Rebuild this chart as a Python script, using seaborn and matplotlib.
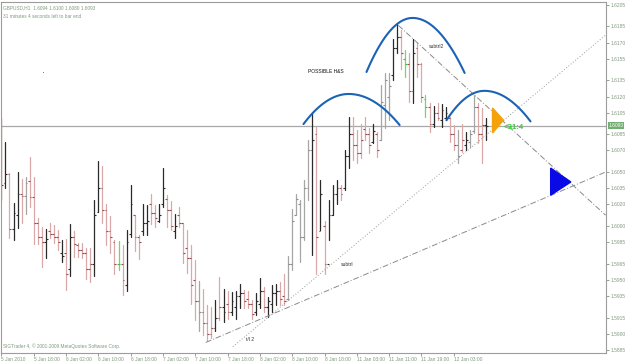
import numpy as np
import pandas as pd
import matplotlib
matplotlib.use("Agg")
import matplotlib.pyplot as plt
import seaborn as sns
from matplotlib.patches import Polygon
from matplotlib.transforms import blended_transform_factory

# ---------------- data (GBPUSD H1 bars) ----------------
high = [1.6100, 1.6078, 1.6049, 1.6021, 1.6050, 1.6044, 1.6045, 1.6064, 1.6045, 1.6007,
        1.5999, 1.5997, 1.6003, 1.6001, 1.5996, 1.5987, 1.5988, 1.6002, 1.5995, 1.5984,
        1.5984, 1.5980, 1.5980, 1.6024, 1.6060, 1.6056, 1.6020, 1.6009, 1.5987, 1.5986,
        1.5982, 1.5996, 1.6038, 1.6010, 1.5992, 1.6020, 1.6019, 1.6030, 1.6019, 1.6020,
        1.6054, 1.6029, 1.6023, 1.6011, 1.6018, 1.6003, 1.5996, 1.5982, 1.5968, 1.5949,
        1.5942, 1.5927, 1.5925, 1.5931, 1.5953, 1.5942, 1.5940, 1.5939, 1.5940, 1.5946,
        1.5941, 1.5940, 1.5931, 1.5938, 1.5952, 1.5943, 1.5934, 1.5945, 1.5946, 1.5948,
        1.5955, 1.5972, 1.6016, 1.6030, 1.6024, 1.6043, 1.6080, 1.6105, 1.6092, 1.6043,
        1.6005, 1.6024, 1.6038, 1.6043, 1.6038, 1.6070, 1.6101, 1.6101, 1.6089, 1.6095,
        1.6101, 1.6091, 1.6095, 1.6087, 1.6131, 1.6142, 1.6142, 1.6173, 1.6187, 1.6182,
        1.6163, 1.6160, 1.6173, 1.6170, 1.6151, 1.6121, 1.6114, 1.6111, 1.6114, 1.6113,
        1.6110, 1.6101, 1.6094, 1.6089, 1.6095, 1.6087, 1.6089, 1.6121, 1.6114, 1.6109,
        1.6100]
low = [1.6024, 1.6035, 1.5989, 1.5987, 1.5998, 1.6003, 1.6011, 1.6018, 1.5983, 1.5983,
       1.5962, 1.5970, 1.5989, 1.5984, 1.5978, 1.5967, 1.5941, 1.5954, 1.5971, 1.5971,
       1.5970, 1.5951, 1.5948, 1.5954, 1.6013, 1.6003, 1.5982, 1.5975, 1.5955, 1.5959,
       1.5936, 1.5940, 1.5990, 1.5977, 1.5969, 1.5992, 1.5992, 1.6002, 1.5999, 1.6004,
       1.6018, 1.5999, 1.5996, 1.5989, 1.5999, 1.5966, 1.5956, 1.5928, 1.5913, 1.5903,
       1.5899, 1.5893, 1.5896, 1.5903, 1.5913, 1.5911, 1.5914, 1.5917, 1.5914, 1.5924,
       1.5924, 1.5924, 1.5914, 1.5917, 1.5924, 1.5920, 1.5916, 1.5920, 1.5927, 1.5927,
       1.5927, 1.5931, 1.5959, 1.6010, 1.5967, 1.5987, 1.6024, 1.5973, 1.5955, 1.5996,
       1.5955, 1.5987, 1.6010, 1.6020, 1.6024, 1.6033, 1.6054, 1.6061, 1.6058, 1.6063,
       1.6080, 1.6068, 1.6077, 1.6064, 1.6080, 1.6091, 1.6098, 1.6135, 1.6160, 1.6146,
       1.6138, 1.6115, 1.6114, 1.6138, 1.6115, 1.6101, 1.6087, 1.6092, 1.6098, 1.6092,
       1.6098, 1.6078, 1.6070, 1.6058, 1.6069, 1.6070, 1.6073, 1.6086, 1.6077, 1.6058,
       1.6080]
open_ = [1.6090, 1.6040, 1.6048, 1.5997, 1.6010, 1.6030, 1.6028, 1.6042, 1.6027, 1.6003,
         1.5990, 1.5985, 1.5995, 1.5993, 1.5990, 1.5975, 1.5975, 1.5960, 1.5990, 1.5982,
         1.5978, 1.5975, 1.5960, 1.5965, 1.6013, 1.6035, 1.6015, 1.5995, 1.5985, 1.5965,
         1.5965, 1.5945, 1.5993, 1.6010, 1.5990, 1.5995, 1.6003, 1.6020, 1.6012, 1.6005,
         1.6020, 1.6025, 1.6015, 1.5995, 1.6010, 1.6003, 1.5980, 1.5970, 1.5950, 1.5930,
         1.5920, 1.5910, 1.5900, 1.5905, 1.5915, 1.5925, 1.5928, 1.5920, 1.5925, 1.5935,
         1.5938, 1.5932, 1.5928, 1.5920, 1.5928, 1.5940, 1.5925, 1.5928, 1.5938, 1.5940,
         1.5935, 1.5932, 1.5965, 1.6010, 1.6020, 1.5990, 1.6035, 1.6070, 1.6085, 1.5995,
         1.6000, 1.5965, 1.6010, 1.6030, 1.6035, 1.6035, 1.6065, 1.6085, 1.6075, 1.6068,
         1.6090, 1.6085, 1.6078, 1.6085, 1.6080, 1.6112, 1.6120, 1.6140, 1.6165, 1.6175,
         1.6155, 1.6150, 1.6125, 1.6165, 1.6150, 1.6118, 1.6110, 1.6095, 1.6105, 1.6098,
         1.6100, 1.6100, 1.6085, 1.6075, 1.6070, 1.6075, 1.6078, 1.6088, 1.6110, 1.6085,
         1.6094]
close = [1.6038, 1.6048, 1.5997, 1.6012, 1.6030, 1.6028, 1.6040, 1.6027, 1.6003, 1.5990,
         1.5985, 1.5988, 1.5993, 1.5990, 1.5985, 1.5972, 1.5955, 1.5990, 1.5983, 1.5978,
         1.5975, 1.5960, 1.5965, 1.6010, 1.6035, 1.6015, 1.5995, 1.5990, 1.5965, 1.5965,
         1.5950, 1.5985, 1.6020, 1.5990, 1.5985, 1.6003, 1.6005, 1.6012, 1.6007, 1.6010,
         1.6035, 1.6015, 1.6000, 1.6000, 1.6003, 1.5975, 1.5970, 1.5945, 1.5930, 1.5920,
         1.5910, 1.5900, 1.5905, 1.5915, 1.5925, 1.5920, 1.5920, 1.5930, 1.5935, 1.5938,
         1.5930, 1.5928, 1.5918, 1.5930, 1.5940, 1.5925, 1.5930, 1.5938, 1.5940, 1.5932,
         1.5930, 1.5965, 1.6005, 1.6025, 1.5990, 1.6035, 1.6070, 1.6080, 1.5990, 1.6030,
         1.5965, 1.6010, 1.6030, 1.6035, 1.6030, 1.6065, 1.6085, 1.6075, 1.6068, 1.6080,
         1.6085, 1.6075, 1.6088, 1.6070, 1.6115, 1.6135, 1.6130, 1.6165, 1.6175, 1.6160,
         1.6150, 1.6125, 1.6160, 1.6150, 1.6120, 1.6110, 1.6095, 1.6105, 1.6100, 1.6108,
         1.6105, 1.6085, 1.6075, 1.6065, 1.6080, 1.6080, 1.6085, 1.6110, 1.6085, 1.6094,
         1.6093]
kind = (["brown", "black", "pink", "black", "black", "pink", "gray", "pink", "pink", "pink",
         "pink", "black", "pink", "pink", "pink", "black", "pink", "black", "pink", "pink",
         "pink", "pink", "pink", "black", "black", "pink", "pink", "pink", "pink", "green",
         "pink", "black", "black", "pink", "pink", "black", "black", "pink", "pink", "black",
         "black", "pink", "pink", "black", "pink", "pink", "pink", "pink", "pink", "gray",
         "pink", "pink", "pink", "black", "pink", "black", "pink", "black", "black", "black",
         "pink", "pink", "pink", "black", "black", "pink", "black", "black", "black", "pink",
         "pink", "gray", "gray", "gray", "gray", "gray", "gray", "black", "pink", "black",
         "pink", "black", "black", "black", "pink", "black", "black", "pink", "pink", "pink",
         "pink", "pink", "black", "pink", "gray", "gray", "gray", "black", "black", "pink",
         "green", "pink", "black", "pink", "pink", "green", "pink", "black", "pink", "black",
         "black", "pink", "pink", "gray", "pink", "black", "gray", "gray", "pink", "pink",
         "black"])

x_tick_pos = [0, 8, 16, 24, 32, 40, 48, 56, 64, 72, 80, 88, 96, 104, 112]
x_tick_labels = ["5 Jan 2010", "5 Jan 18:00", "6 Jan 02:00", "6 Jan 10:00", "6 Jan 18:00",
                 "7 Jan 02:00", "7 Jan 10:00", "7 Jan 18:00", "8 Jan 02:00", "8 Jan 10:00",
                 "8 Jan 18:00", "11 Jan 03:00", "11 Jan 11:00", "11 Jan 19:00", "12 Jan 03:00"]
y_ticks = [1.6205, 1.6185, 1.6170, 1.6155, 1.6135, 1.6120, 1.6105, 1.6085, 1.6070,
           1.6050, 1.6035, 1.6020, 1.6000, 1.5985, 1.5965, 1.5950, 1.5935, 1.5915,
           1.5900, 1.5885]
bid = 1.6093

# drawn objects (bar index, price)
line_subtrl = ([57.3, 149.6], [1.5888, 1.6177])
line_tl2 = ([50.6, 149.6], [1.5892, 1.6050])
line_subtrl2 = ([98.3, 149.6], [1.6186, 1.6010])
arcs = [  # start, peak, end  (x, y)
    ((74.8, 1.60945), (86.0, 1.61224), (98.6, 1.60936)),
    ((90.4, 1.61428), (101.8, 1.61929), (114.7, 1.61419)),
    ((110.2, 1.60980), (119.6, 1.61253), (131.0, 1.60970)),
]
tri_orange = [(121.6, 1.61094), (121.6, 1.60862), (124.3, 1.60982)]
tri_blue = [(136.0, 1.60537), (136.0, 1.60286), (141.0, 1.60408)]

# ---------------- drawing ----------------
sns.set_theme(style="white")
plt.rcParams['font.family'] = ['Liberation Sans', 'DejaVu Sans']

W, H = 625, 364
fig = plt.figure(figsize=(W / 100, H / 100), dpi=100)
fig.patch.set_facecolor("white")
ax = fig.add_axes([1 / W, (H - 353) / H, 605 / W, 351 / H])
ax.set_facecolor("white")

palette = {"black": "#2a2a2a", "pink": "#d9a8a8", "gray": "#a6a6a6",
           "green": "#66dd66", "brown": "#8c3a22"}
tick_col = {"black": "#2a2a2a", "pink": "#9a4a4a", "gray": "#8a8a8a",
            "green": "#3cbc3c", "brown": "#8c3a22"}

n = len(high)
df = pd.DataFrame({"bar": np.arange(n), "high": high, "low": low,
                   "open": open_, "close": close, "kind": kind})
long = df.melt(id_vars=["bar", "kind"], value_vars=["low", "high"], value_name="price")
sns.lineplot(data=long, x="bar", y="price", hue="kind", units="bar", estimator=None,
             palette=palette, legend=False, lw=0.9, ax=ax, sort=False)
tc = [tick_col[k] for k in df["kind"]]
ax.hlines(df["open"], df["bar"] - 0.45, df["bar"], colors=tc, lw=0.8)
ax.hlines(df["close"], df["bar"], df["bar"] + 0.45, colors=tc, lw=0.8)

ax.axhline(bid, color="#a8a8a8", lw=0.9, zorder=1)

ax.plot(*line_subtrl, color="#9a9a9a", lw=0.7, ls=(0, (1, 2)))
ax.plot(*line_tl2, color="#8a8a8a", lw=0.7, ls=(0, (6, 2, 1, 2)))
ax.plot(*line_subtrl2, color="#8a8a8a", lw=0.7, ls=(0, (6, 2, 1, 2)))

for (x0, y0), (xp, yp), (x1, y1) in arcs:
    xs = np.linspace(x0, x1, 80)
    left = xs <= xp
    ys = np.where(left, yp - (yp - y0) * ((xp - xs) / (xp - x0)) ** 2,
                  yp - (yp - y1) * ((xs - xp) / (x1 - xp)) ** 2)
    ax.plot(xs, ys, color="#1b63b5", lw=1.5, solid_capstyle="round")

ax.add_patch(Polygon(tri_orange, closed=True, color="#f5a10a", zorder=5))
ax.add_patch(Polygon(tri_blue, closed=True, color="#0a0ae6", zorder=5))

ax.text(124.3, 1.6091, "<31:4", color="#33cc33", fontsize=5.6, fontweight="bold",
        va="center", ha="left")
ax.text(76.0, 1.6143, "POSSIBLE H&S", color="#111111", fontsize=3.6, va="center")
ax.text(105.8, 1.6166, "subtrl2", color="#333333", fontsize=3.6, va="center")
ax.text(84.0, 1.5964, "subtrl", color="#333333", fontsize=3.6, va="center")
ax.text(60.6, 1.5895, "t/l 2", color="#333333", fontsize=3.6, va="center")

txtc = "#7f9a7f"
ax.text(0.004, 0.992, "GBPUSD,H1  1.6094 1.6100 1.6080 1.6093", transform=ax.transAxes,
        color=txtc, fontsize=3.4, va="top", ha="left")
ax.text(0.004, 0.967, "31 minutes 4 seconds left to bar end", transform=ax.transAxes,
        color=txtc, fontsize=3.4, va="top", ha="left")
ax.text(0.004, 0.012, "SIGTrader 4, \u00a9 2001-2009 MetaQuotes Software Corp.",
        transform=ax.transAxes, color=txtc, fontsize=3.4, va="bottom", ha="left")

ax.set_xlim(-0.1, 149.7)
ax.set_ylim(1.58822, 1.62077)

ax.yaxis.tick_right()
ax.set_yticks(y_ticks)
ax.set_yticklabels([f"{v:.4f}" for v in y_ticks])
ax.set_xticks(x_tick_pos)
ax.set_xticklabels(x_tick_labels)
for lbl in ax.get_xticklabels():
    lbl.set_ha("left")
ax.tick_params(axis="both", which="both", colors="#8a8a8a", labelcolor=txtc,
               labelsize=3.5, length=2, width=0.6, pad=1.2, direction="out")
ax.tick_params(axis="y", right=True, left=False)
ax.tick_params(axis="x", bottom=True)
ax.set_xlabel("")
ax.set_ylabel("")
for s in ax.spines.values():
    s.set_color("#9c9c9c")
    s.set_linewidth(0.8)

bt = blended_transform_factory(ax.transAxes, ax.transData)
ax.text(1.004, bid, "1.6093", transform=bt, color="white", fontsize=3.5, va="center",
        ha="left", bbox=dict(boxstyle="square,pad=0.15", fc="#72ad72", ec="none"))

ax.plot([10.4], [1.6143], marker="s", ms=0.5, mew=0, color="#555555")

fig.savefig("out.png", dpi=100, facecolor="white")
